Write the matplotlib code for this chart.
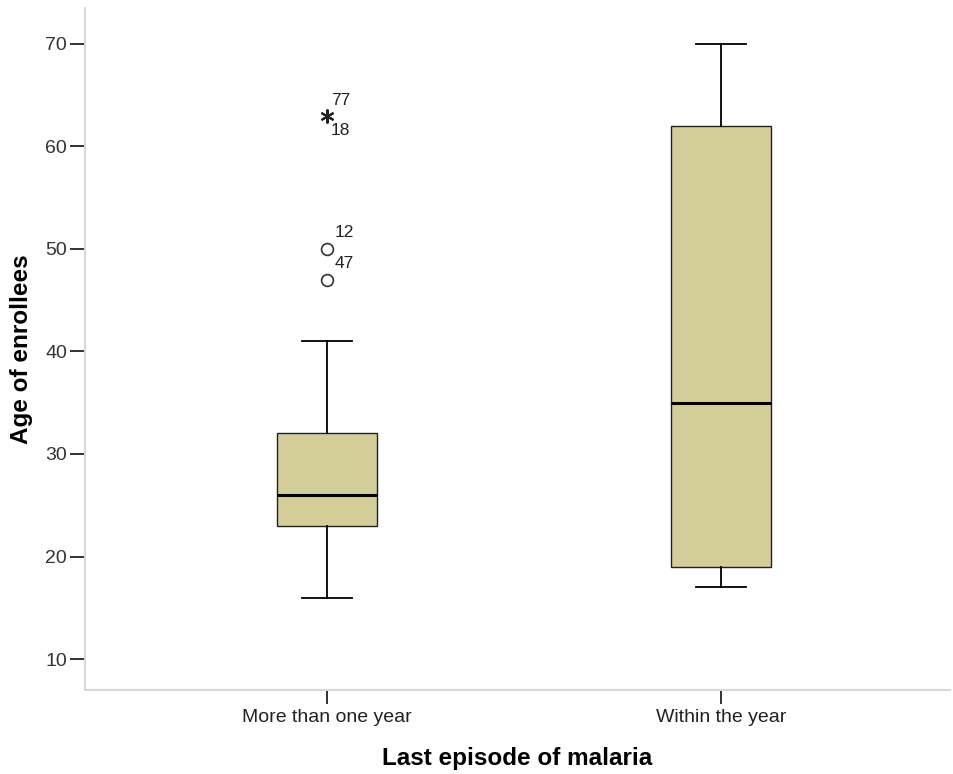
import matplotlib
matplotlib.use("Agg")
import matplotlib.pyplot as plt

categories = ["More than one year", "Within the year"]
q1 = [23, 19]
median = [26, 35]
q3 = [32, 62]
whislo = [16, 17]
whishi = [41, 70]
# outliers (circle) for group 1
outlier_vals = [50, 47]
outlier_labels = ["12", "47"]
# extreme (star) for group 1
extreme_vals = [63]
extreme_labels_above = ["77"]
extreme_labels_below = ["18"]
yticks = [10, 20, 30, 40, 50, 60, 70]

plt.rcParams['font.family'] = ['Liberation Sans', 'DejaVu Sans']

fig = plt.figure(figsize=(9.54, 7.74), dpi=100)
ax = fig.add_axes([85/954, 1 - 690/774, (950-85)/954, (690-8)/774])

stats = []
for i in range(len(categories)):
    stats.append(dict(q1=q1[i], med=median[i], q3=q3[i], whislo=whislo[i],
                      whishi=whishi[i], fliers=[], label=categories[i]))

positions = [1, 2]
ax.bxp(stats, positions=positions, widths=0.253, patch_artist=True,
       showfliers=False,
       boxprops=dict(facecolor="#D3CE99", edgecolor="#222222", linewidth=1.0),
       medianprops=dict(color="black", linewidth=2.2),
       whiskerprops=dict(color="black", linewidth=1.3),
       capprops=dict(color="black", linewidth=1.3),
       capwidths=0.127)

ax.plot([positions[0]] * len(outlier_vals), outlier_vals, linestyle="none",
        marker="o", markersize=8.5, markerfacecolor="white",
        markeredgecolor="#333333", markeredgewidth=1.2)
ax.plot([positions[0]] * len(extreme_vals), extreme_vals, linestyle="none",
        marker=(6, 2, 0), markersize=10, color="#222222", markeredgewidth=1.5)

for v, lab in zip(outlier_vals, outlier_labels):
    ax.annotate(lab, (positions[0], v), xytext=(6, 12), textcoords="offset points",
                fontsize=12.5, color="#222222", ha="left", va="center")
for v, la, lb in zip(extreme_vals, extreme_labels_above, extreme_labels_below):
    ax.annotate(la, (positions[0], v), xytext=(3, 11), textcoords="offset points",
                fontsize=12.5, color="#222222", ha="left", va="center")
    ax.annotate(lb, (positions[0], v), xytext=(3, -11), textcoords="offset points",
                fontsize=12.5, color="#222222", ha="left", va="center")

ax.set_xlim(0.387, 2.58)
ax.set_ylim(6.98, 73.5)
ax.set_yticks(yticks)
ax.set_xticks(positions)
ax.set_xticklabels(categories)

for s in ["top", "right"]:
    ax.spines[s].set_visible(False)
for s in ["left", "bottom"]:
    ax.spines[s].set_color("#D8D8D8")
    ax.spines[s].set_linewidth(1.5)

ax.tick_params(axis="y", direction="out", length=11, width=1.3, color="#222222",
               labelsize=14, labelcolor="#333333", pad=2)
ax.tick_params(axis="x", direction="out", length=10, width=1.3, color="#222222",
               labelsize=14, labelcolor="#222222", pad=4)

ax.set_ylabel("Age of enrollees", fontsize=17.5, fontweight="bold", labelpad=9)
ax.set_xlabel("Last episode of malaria", fontsize=17.5, fontweight="bold", labelpad=15)

fig.savefig("out.png", dpi=100)
